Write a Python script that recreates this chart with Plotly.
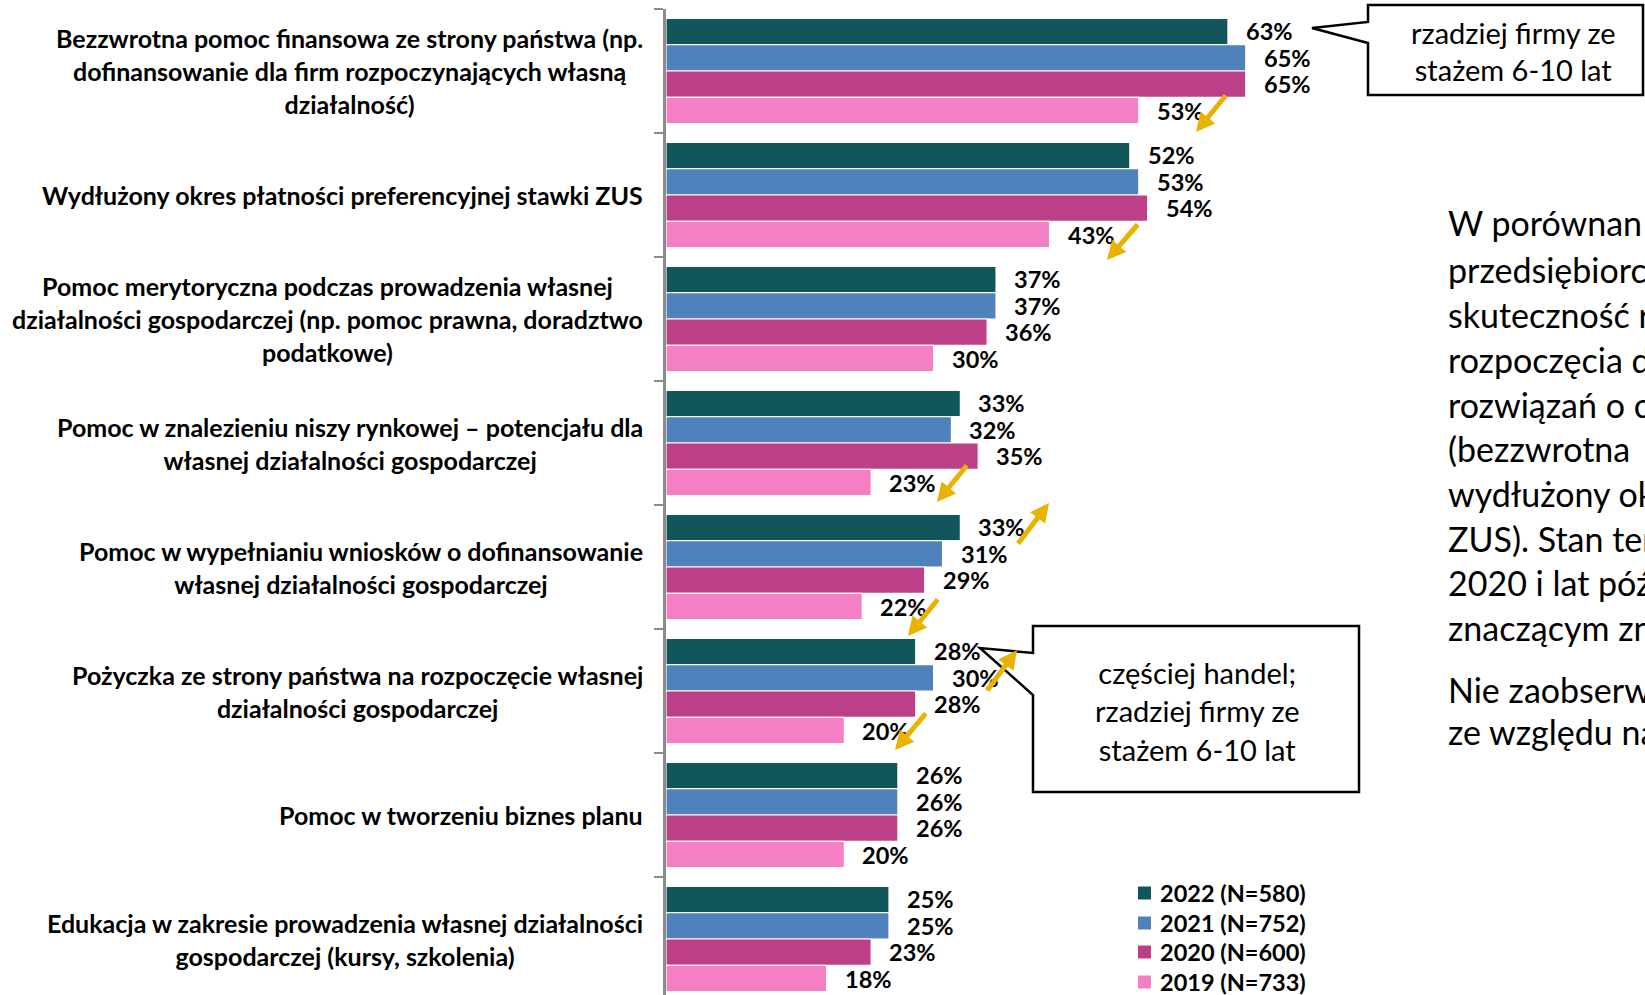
import plotly.graph_objects as go

# ---------------- data ----------------
categories = [
    "Bezzwrotna pomoc finansowa ze strony państwa (np.<br>dofinansowanie dla firm rozpoczynających własną<br>działalność)",
    "Wydłużony okres płatności preferencyjnej stawki ZUS",
    "Pomoc merytoryczna podczas prowadzenia własnej<br>działalności gospodarczej (np. pomoc prawna, doradztwo<br>podatkowe)",
    "Pomoc w znalezieniu niszy rynkowej – potencjału dla<br>własnej działalności gospodarczej",
    "Pomoc w wypełnianiu wniosków o dofinansowanie<br>własnej działalności gospodarczej",
    "Pożyczka ze strony państwa na rozpoczęcie własnej<br>działalności gospodarczej",
    "Pomoc w tworzeniu biznes planu",
    "Edukacja w zakresie prowadzenia własnej działalności<br>gospodarczej (kursy, szkolenia)",
]
series_names = ["2022 (N=580)", "2021 (N=752)", "2020 (N=600)", "2019 (N=733)"]
v2022 = [63, 52, 37, 33, 33, 28, 26, 25]
v2021 = [65, 53, 37, 32, 31, 30, 26, 25]
v2020 = [65, 54, 36, 35, 29, 28, 26, 23]
v2019 = [53, 43, 30, 23, 22, 20, 20, 18]
series_values = [v2022, v2021, v2020, v2019]
colors = ["#11565A", "#4F81BD", "#BC4088", "#F47FC4"]

callout_top = "rzadziej firmy ze<br>stażem 6-10 lat"
callout_mid = "częściej handel;<br>rzadziej firmy ze<br>stażem 6-10 lat"
side_text = [
    "W porównan", "przedsiębiorc", "skuteczność r", "rozpoczęcia d",
    "rozwiązań o c", "(bezzwrotna", "wydłużony ok", "ZUS). Stan ter",
    "2020 i lat póź", "znaczącym zn", "Nie zaobserw", "ze względu na",
]

# ---------------- layout geometry ----------------
W, H = 1645, 995
L, T = 666, 9
PX_PER_PCT = 8.92
XMAX = (W - L) / PX_PER_PCT
CAT_PX = 124.0
YMAX = -0.5 + (H - T) / CAT_PX
BARGAP = 0.15
n_cat = len(categories)
n_ser = len(series_names)
bar_w = (1 - BARGAP) / n_ser

FONT = "Lato, 'Open Sans', sans-serif"


def px(x):
    return (x - L) / (W - L)


def py(y):
    return (H - y) / (H - T)


fig = go.Figure()
ypos = list(range(n_cat))
for name, vals, col in zip(series_names, series_values, colors):
    fig.add_trace(go.Bar(
        y=ypos, x=vals, name=name, orientation="h",
        marker=dict(color=col, line=dict(color="white", width=1.2)),
        showlegend=False, hoverinfo="x+name",
    ))

annotations = []
# data labels
for j, vals in enumerate(series_values):
    off = (j - (n_ser - 1) / 2) * bar_w
    for i, v in enumerate(vals):
        annotations.append(dict(
            x=v, y=i + off, xref="x", yref="y", text=f"{v}%",
            showarrow=False, xanchor="left", yanchor="middle", xshift=16,
            font=dict(family=FONT, size=23.5, color="black", weight="bold"),
        ))

# category labels
for i, c in enumerate(categories):
    annotations.append(dict(
        x=0, y=i, xref="paper", yref="y",
        text=f'<span style="font-size:25px">{c}</span>',
        showarrow=False, xanchor="right", yanchor="middle", align="center",
        xshift=-21,
        font=dict(family=FONT, size=25.4, color="black", weight="bold"),
    ))

# side text
side_y = [223, 270, 315, 359, 404, 448, 493, 538, 583, 627, 689, 731]
for t, yy in zip(side_text, side_y):
    annotations.append(dict(
        x=px(1446), y=py(yy), xref="paper", yref="paper", text=t,
        showarrow=False, xanchor="left", yanchor="middle",
        font=dict(family=FONT, size=34, color="black"),
    ))

# callout texts
annotations.append(dict(
    x=px(1513), y=py(51), xref="paper", yref="paper",
    text=f'<span style="font-size:29px">{callout_top}</span>',
    showarrow=False, xanchor="center", yanchor="middle", align="center",
    font=dict(family=FONT, size=28.5, color="black"),
))
annotations.append(dict(
    x=px(1197), y=py(711), xref="paper", yref="paper",
    text=f'<span style="font-size:29px">{callout_mid}</span>',
    showarrow=False, xanchor="center", yanchor="middle", align="center",
    font=dict(family=FONT, size=29.5, color="black"),
))

# gold arrows (tail -> head), pixel positions
arrows = [
    ((1227, 94), (1196, 132)),
    ((1139, 223), (1107, 260)),
    ((968, 464), (937, 502)),
    ((1017, 545), (1049, 503)),
    ((939, 598), (908, 636)),
    ((986, 692), (1017, 650)),
    ((927, 712), (895, 750)),
]
for (tx, ty), (hx, hy) in arrows:
    annotations.append(dict(
        x=px(hx), y=py(hy), xref="paper", yref="paper", text="",
        showarrow=True, ax=tx - hx, ay=ty - hy,
        arrowcolor="#EAB200", arrowwidth=5, arrowhead=2, arrowsize=0.75,
        standoff=0, startstandoff=0,
    ))

# manual legend
legend_y = [893, 923, 952, 982]
shapes = []
for name, col, yy in zip(series_names, colors, legend_y):
    shapes.append(dict(
        type="rect", xref="paper", yref="paper",
        x0=px(1138), x1=px(1151), y0=py(yy + 6.5), y1=py(yy - 6.5),
        fillcolor=col, line=dict(width=0),
    ))
    annotations.append(dict(
        x=px(1158), y=py(yy), xref="paper", yref="paper", text=name,
        showarrow=False, xanchor="left", yanchor="middle",
        font=dict(family=FONT, size=23.5, color="black", weight="bold"),
    ))


def path(points):
    s = "M " + " L ".join(f"{px(a):.5f},{py(b):.5f}" for a, b in points) + " Z"
    return s


shapes.append(dict(
    type="path", xref="paper", yref="paper", layer="above",
    path=path([(1368, 5), (1643, 5), (1643, 95), (1368, 95), (1368, 43),
               (1312, 28), (1368, 22)]),
    fillcolor="white", line=dict(color="black", width=2.5),
))
shapes.append(dict(
    type="path", xref="paper", yref="paper", layer="above",
    path=path([(1033, 626), (1359, 626), (1359, 792), (1033, 792),
               (1033, 695), (980, 648), (1033, 653)]),
    fillcolor="white", line=dict(color="black", width=2.5),
))

fig.update_layout(
    width=W, height=H,
    margin=dict(l=L, r=0, t=T, b=0, pad=0),
    paper_bgcolor="white", plot_bgcolor="white",
    barmode="group", bargap=BARGAP, bargroupgap=0,
    showlegend=False,
    xaxis=dict(range=[0, XMAX], visible=False, fixedrange=True),
    yaxis=dict(
        range=[YMAX, -0.5], showgrid=False, zeroline=False,
        showline=True, linecolor="#8C8C8C", linewidth=2.5,
        tickmode="array", tickvals=[k - 0.5 for k in range(n_cat + 1)],
        ticks="outside", ticklen=9, tickwidth=2, tickcolor="#8C8C8C",
        showticklabels=False, automargin=False, fixedrange=True,
    ),
    annotations=annotations,
    shapes=shapes,
)

fig.write_html("out.html", config={"displayModeBar": False},
               post_script="document.body.style.margin='0';")
